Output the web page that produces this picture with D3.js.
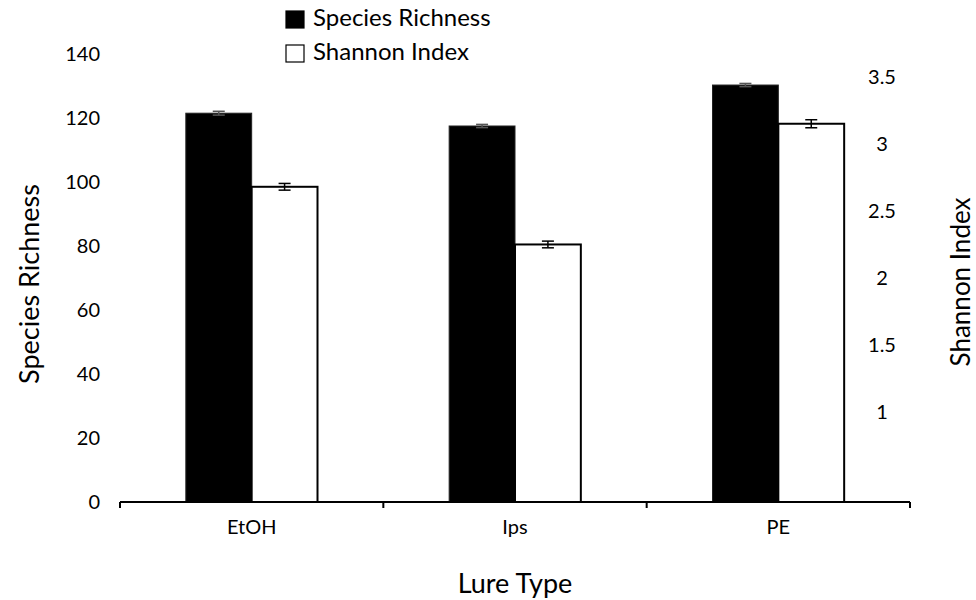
<!DOCTYPE html>
<html>
<head>
<meta charset="utf-8">
<script src="https://cdn.jsdelivr.net/npm/d3@7"></script>
<style>
  body { margin: 0; background: #fff; }
  text { font-family: Lato, "Open Sans", sans-serif; fill: #000; }
</style>
</head>
<body>
<div id="chart"></div>
<script>
// Data
const lureTypes = ["EtOH", "Ips", "PE"];
const richness = [121.5, 117.5, 130.3];
const richnessErr = [0.6, 0.5, 0.5];
const shannon = [2.68, 2.25, 3.15];
const shannonErr = [0.025, 0.025, 0.03];
const leftTicks = [0, 20, 40, 60, 80, 100, 120, 140];
const rightTicks = [1, 1.5, 2, 2.5, 3, 3.5];
const seriesNames = ["Species Richness", "Shannon Index"];

const W = 976, H = 600;
const margin = {top: 54, right: 66, bottom: 98, left: 120},
      width = W - margin.left - margin.right,
      height = H - margin.top - margin.bottom;

const svg = d3.select("#chart")
    .append("svg")
    .attr("width", W)
    .attr("height", H)
    .append("g")
    .attr("transform", `translate(${margin.left},${margin.top})`);

// Scales
const x0 = d3.scaleBand()
    .domain(lureTypes)
    .range([0, width])
    .padding(0);

const x1 = d3.scaleBand()
    .domain(seriesNames)
    .range([0, x0.bandwidth()])
    .paddingInner(0)
    .paddingOuter(1);

const yLeft = d3.scaleLinear()
    .domain([0, 140])
    .range([height, 0]);

// secondary axis does not start at zero in the original
const yRight = d3.scaleLinear()
    .domain([0.33, 3.67])
    .range([height, 0]);

// Bars
const rows = lureTypes.map((t, i) => ({
    type: t,
    bars: [
        {name: seriesNames[0], value: richness[i], err: richnessErr[i], y: yLeft, fill: "#000"},
        {name: seriesNames[1], value: shannon[i], err: shannonErr[i], y: yRight, fill: "#fff"}
    ]
}));

rows.forEach(r => {
    r.bars.forEach(b => {
        const bx = x0(r.type) + x1(b.name),
              bw = x1.bandwidth();
        svg.append("rect")
            .attr("x", bx).attr("y", b.y(b.value))
            .attr("width", bw)
            .attr("height", height - b.y(b.value))
            .attr("fill", b.fill)
            .attr("stroke", b.fill === "#000" ? "#222" : "#000")
            .attr("stroke-width", b.fill === "#000" ? 1 : 2);

        // error bar
        const cx = bx + bw / 2,
              eCol = b.fill === "#000" ? "#555" : "#000";
        svg.append("line")
            .attr("x1", cx).attr("x2", cx)
            .attr("y1", b.y(b.value + b.err)).attr("y2", b.y(b.value - b.err))
            .attr("stroke", eCol).attr("stroke-width", 1.5);
        [b.value + b.err, b.value - b.err].forEach(v => {
            svg.append("line")
                .attr("x1", cx - 6).attr("x2", cx + 6)
                .attr("y1", b.y(v)).attr("y2", b.y(v))
                .attr("stroke", eCol).attr("stroke-width", 1.5);
        });
    });
});

// X axis: line with ticks at category boundaries
const xAxis = svg.append("g").attr("transform", `translate(0,${height})`);
xAxis.append("line")
    .attr("x1", 0).attr("x2", width)
    .attr("y1", 0).attr("y2", 0)
    .attr("stroke", "#000").attr("stroke-width", 2);
lureTypes.concat(["end"]).forEach((t, i) => {
    const xx = i < lureTypes.length ? x0(t) : width;
    xAxis.append("line")
        .attr("x1", xx).attr("x2", xx)
        .attr("y1", 0).attr("y2", 6)
        .attr("stroke", "#000").attr("stroke-width", 2);
});
lureTypes.forEach(t => {
    xAxis.append("text")
        .attr("x", x0(t) + x0.bandwidth() / 2)
        .attr("y", 32)
        .attr("text-anchor", "middle")
        .style("font-size", "20px")
        .text(t);
});

// Left axis (labels only)
const leftAxis = svg.append("g")
    .call(d3.axisLeft(yLeft).tickValues(leftTicks).tickSize(0).tickPadding(20));
leftAxis.select(".domain").remove();
leftAxis.selectAll("text")
    .style("font-family", "Lato, 'Open Sans', sans-serif")
    .style("font-size", "20px");

// Right axis (labels only), centred under each other as in the original
const rightAxis = svg.append("g")
    .attr("transform", `translate(${width},0)`)
    .call(d3.axisRight(yRight).tickValues(rightTicks).tickSize(0)
        .tickFormat(d3.format("")));
rightAxis.select(".domain").remove();
rightAxis.selectAll("text")
    .attr("x", -28)
    .attr("text-anchor", "middle")
    .style("font-family", "Lato, 'Open Sans', sans-serif")
    .style("font-size", "20px");

// Axis titles
svg.append("text")
    .attr("x", width / 2)
    .attr("y", height + 91)
    .attr("text-anchor", "middle")
    .style("font-size", "27px")
    .text("Lure Type");

svg.append("text")
    .attr("transform", "rotate(-90)")
    .attr("x", -height / 2 - 6)
    .attr("y", -81)
    .attr("text-anchor", "middle")
    .style("font-size", "27px")
    .text("Species Richness");

svg.append("text")
    .attr("transform", "rotate(-90)")
    .attr("x", -height / 2 - 4)
    .attr("y", width + 60)
    .attr("text-anchor", "middle")
    .style("font-size", "26px")
    .text("Shannon Index");

// Legend
const legend = svg.append("g").attr("transform", `translate(${285 - margin.left}, ${10 - margin.top})`);
seriesNames.forEach((name, i) => {
    legend.append("rect")
        .attr("x", 1).attr("y", i * 34 + 1)
        .attr("width", 18).attr("height", 17)
        .attr("fill", i === 0 ? "#000" : "#fff")
        .attr("stroke", "#000").attr("stroke-width", 1.2);
    legend.append("text")
        .attr("x", 28).attr("y", i * 34 + 10)
        .attr("dominant-baseline", "middle")
        .style("font-size", "24px")
        .text(name);
});
</script>
</body>
</html>
